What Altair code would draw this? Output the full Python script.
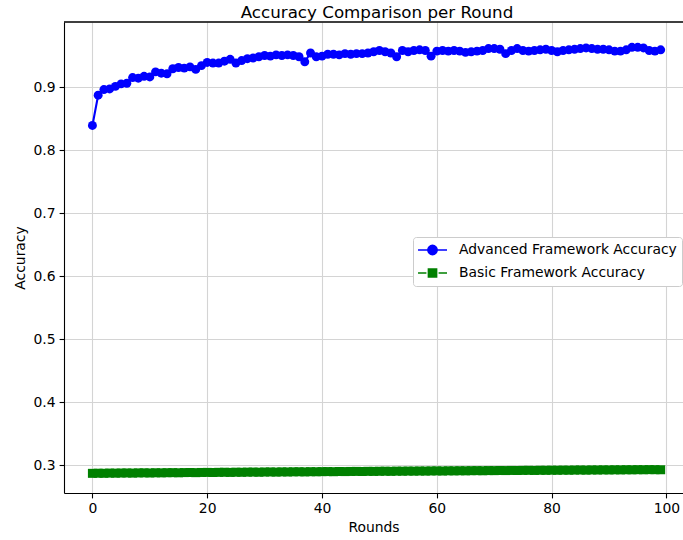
import altair as alt
import pandas as pd

# Rounds 0..99 and the per-round accuracy of both frameworks
rounds = list(range(100))

advanced_acc = [
    0.839, 0.887, 0.896, 0.897, 0.901, 0.905, 0.906, 0.915, 0.914, 0.917,
    0.916, 0.924, 0.922, 0.921, 0.929, 0.931, 0.930, 0.932, 0.928, 0.934,
    0.939, 0.938, 0.938, 0.941, 0.944, 0.938, 0.942, 0.945, 0.946, 0.948,
    0.950, 0.949, 0.951, 0.950, 0.951, 0.950, 0.948, 0.940, 0.954, 0.948,
    0.949, 0.952, 0.952, 0.951, 0.953, 0.952, 0.953, 0.953, 0.954, 0.956,
    0.958, 0.956, 0.954, 0.948, 0.958, 0.956, 0.958, 0.959, 0.958, 0.949,
    0.957, 0.958, 0.957, 0.958, 0.957, 0.955, 0.956, 0.957, 0.958, 0.961,
    0.961, 0.960, 0.953, 0.958, 0.961, 0.958, 0.957, 0.958, 0.959, 0.960,
    0.958, 0.956, 0.958, 0.959, 0.960, 0.961, 0.962, 0.961, 0.960, 0.960,
    0.959, 0.957, 0.957, 0.959, 0.963, 0.963, 0.962, 0.958, 0.957, 0.959,
]

basic_acc = [
    0.2868, 0.2870, 0.2869, 0.2872, 0.2871, 0.2873, 0.2874, 0.2872, 0.2875, 0.2876,
    0.2874, 0.2877, 0.2876, 0.2878, 0.2879, 0.2877, 0.2880, 0.2881, 0.2879, 0.2882,
    0.2883, 0.2881, 0.2884, 0.2885, 0.2883, 0.2886, 0.2885, 0.2887, 0.2888, 0.2886,
    0.2889, 0.2890, 0.2888, 0.2891, 0.2890, 0.2892, 0.2893, 0.2891, 0.2894, 0.2893,
    0.2895, 0.2896, 0.2894, 0.2897, 0.2896, 0.2898, 0.2899, 0.2897, 0.2900, 0.2899,
    0.2901, 0.2902, 0.2900, 0.2903, 0.2902, 0.2904, 0.2903, 0.2905, 0.2904, 0.2906,
    0.2907, 0.2905, 0.2908, 0.2907, 0.2909, 0.2908, 0.2910, 0.2911, 0.2909, 0.2912,
    0.2911, 0.2913, 0.2912, 0.2914, 0.2913, 0.2915, 0.2916, 0.2914, 0.2917, 0.2916,
    0.2918, 0.2917, 0.2919, 0.2918, 0.2920, 0.2921, 0.2919, 0.2922, 0.2921, 0.2923,
    0.2922, 0.2924, 0.2923, 0.2925, 0.2924, 0.2926, 0.2925, 0.2927, 0.2926, 0.2925,
]

series_names = ["Advanced Framework Accuracy", "Basic Framework Accuracy"]
series_colors = ["#0000ff", "#008000"]
x_ticks = [0, 20, 40, 60, 80, 100]
y_ticks = [0.3, 0.4, 0.5, 0.6, 0.7, 0.8, 0.9]

# Legend glyphs (unit = 7 px): solid line with a circle, dashed line with a square
legend_shapes = [
    "M-1.14,0H3M0.27,0A0.66,0.66 0 1,1 1.59,0A0.66,0.66 0 1,1 0.27,0Z",
    "M-1.14,0H0.06M1.8,0H3M0.35,-0.58H1.51V0.58H0.35Z",
]

df = pd.DataFrame({"Round": rounds, "Advanced": advanced_acc, "Basic": basic_acc})
legend_df = pd.DataFrame({"series": series_names})

FONT = "DejaVu Sans"
W, H = 619, 471

x_scale = alt.Scale(domain=[-4.95, 102.89], nice=False, zero=False)
y_scale = alt.Scale(domain=[0.2556, 1.0032], nice=False, zero=False)

x_enc = alt.X(
    "Round:Q", scale=x_scale,
    axis=alt.Axis(title="Rounds", values=x_ticks, format="d", titlePadding=5),
)


def y_enc(field):
    return alt.Y(
        f"{field}:Q", scale=y_scale,
        axis=alt.Axis(title="Accuracy", values=y_ticks, format=".1f", titlePadding=6),
    )


base = alt.Chart(df)

adv_line = base.mark_line(color=series_colors[0], strokeWidth=2.1).encode(
    x=x_enc, y=y_enc("Advanced"))
adv_pts = base.mark_point(filled=True, shape="circle", size=80, opacity=1,
                          color=series_colors[0]).encode(x=x_enc, y=y_enc("Advanced"))
basic_line = base.mark_line(color=series_colors[1], strokeWidth=2.1,
                            strokeDash=[5.5, 2.4]).encode(x=x_enc, y=y_enc("Basic"))
basic_pts = base.mark_point(filled=True, shape="square", size=81, opacity=1,
                            color=series_colors[1]).encode(x=x_enc, y=y_enc("Basic"))

legend_def = alt.Legend(
    title=None, orient="none", legendX=349, legendY=215,
    fillColor="white", strokeColor="#cccccc", cornerRadius=3, padding=5,
    labelFont=FONT, labelFontSize=13.9, labelColor="black", labelOffset=25,
    labelLimit=400, symbolSize=196, symbolStrokeWidth=1.6, rowPadding=7,
)
leg_scale = dict(domain=series_names)

legend_layer = (
    alt.Chart(legend_df)
    .transform_filter("false")
    .mark_point(filled=True, size=196, opacity=1)
    .encode(
        fill=alt.Fill("series:N", scale=alt.Scale(range=series_colors, **leg_scale), legend=legend_def),
        stroke=alt.Stroke("series:N", scale=alt.Scale(range=series_colors, **leg_scale), legend=legend_def),
        shape=alt.Shape("series:N", scale=alt.Scale(range=legend_shapes, **leg_scale), legend=legend_def),
    )
)

# Top spine of the plot frame (the right side runs past the visible area)
top_spine = alt.Chart(legend_df).mark_rule(color="black", strokeWidth=1.1).encode(
    x=alt.value(0), x2=alt.value(W), y=alt.value(0))

chart = (
    alt.layer(adv_line, adv_pts, basic_line, basic_pts, legend_layer, top_spine)
    .properties(
        width=W, height=H,
        padding={"left": 64, "top": 22, "right": 0, "bottom": 47},
        autosize=alt.AutoSizeParams(type="none"),
        title=alt.TitleParams(
            "Accuracy Comparison per Round", font=FONT, fontSize=16.7,
            fontWeight="normal", color="black", anchor="middle", frame="group",
            baseline="alphabetic", offset=-13, dx=3.5,
        ),
    )
    .configure_view(stroke=None)
    .configure_axis(
        labelFont=FONT, labelFontSize=13.9, labelColor="black",
        titleFont=FONT, titleFontSize=13.9, titleFontWeight="normal", titleColor="black",
        domainColor="black", domainWidth=1.1,
        tickColor="black", tickWidth=1.1, tickSize=4.9,
        gridColor="#d4d4d4", gridWidth=1.1, labelPadding=4,
    )
)

chart.save("out.html", embed_options={"renderer": "svg", "actions": False})
